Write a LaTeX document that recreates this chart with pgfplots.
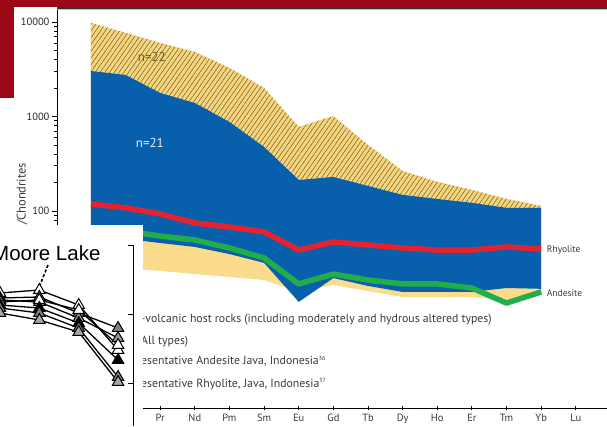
\documentclass[border=0pt]{standalone}
\usepackage{fontspec}
\setmainfont{PT Sans}
\newfontfamily\arialfont{Liberation Sans}
\usepackage{pgfplots}
\usepackage{pgfplotstable}
\pgfplotsset{compat=1.18}
\usepgfplotslibrary{fillbetween}
\usetikzlibrary{patterns.meta}

\definecolor{maroon}{HTML}{9A0A16}
\definecolor{hatchbg}{HTML}{F6D57C}
\definecolor{hatchln}{HTML}{6E5C2E}
\definecolor{lowyel}{HTML}{FBDB8C}
\definecolor{reeblue}{HTML}{0860AC}
\definecolor{rhyred}{HTML}{E52330}
\definecolor{andgreen}{HTML}{22AD4A}
\definecolor{txtgrey}{HTML}{3A3A3A}

% REE / chondrite, x: 1=La ... 14=Yb
\pgfplotstableread{
x  up22  up21  lo21  lo22  rhy   and
1  9760  3030  54    26.2  119   66
2  7660  2750  50.6  24.9  108   61.4
3  5990  1774  45.8  23.2  93    54.3
4  4820  1390  41.6  21.5  74.6  49.3
5  3260  875   35    20    67.7  40.6
6  2005  476   28.2  18.6  60    31.8
7  774   213   10.9  13.9  38.6  16.9
8  1010  229   19.5  16.5  47    21.5
9  499   184   16.1  14.2  43.7  18.6
10 265   148   13.9  12.3  40.6  16.9
11 203   134   13.9  12.3  38.6  16.9
12 167   122   13.9  12.3  38.6  15.3
13 134   108   15.3  11.4  41.6  10.6
14 113   108   15    13.9  39.6  13.9
}\ree

% inset (Moore Lake), 4 columns
\pgfplotstableread{
x  a    b    c    d    e    f    g
0  133  128  126  124  121  118  113
1  136  129  124  126  118  113  106
2  121  113  108  116  103  98   94
3  76   98   88   81   66   49   44
}\moore

\begin{document}
\begin{tikzpicture}[x=1pt,y=1pt]

\begin{axis}[
    at={(57pt,18pt)}, anchor=south west,
    scale only axis, width=560pt, height=400pt,
    xmin=0.02, xmax=16.19,
    ymode=log, ymin=0.822, ymax=14060,
    axis lines*=left,
    axis line style={line width=1pt, black},
    xtick={1,...,15},
    xticklabels={La,Ce,Pr,Nd,Pm,Sm,Eu,Gd,Tb,Dy,Ho,Er,Tm,Yb,Lu},
    ytick={1,10,100,1000,10000},
    yticklabels={1,10,100,1000,10000},
    minor ytick={2,3,4,5,6,7,8,9,20,30,40,50,60,70,80,90,200,300,400,500,600,700,800,900,2000,3000,4000,5000,6000,7000,8000,9000},
    xtick align=center, ytick align=outside,
    major tick length=5pt, minor tick length=3pt,
    tick style={black, line width=0.8pt},
    xticklabel style={font=\fontsize{10.5}{11}\selectfont, text=txtgrey},
    yticklabel style={font=\fontsize{10.5}{11}\selectfont, text=black!85, xshift=1pt},
    /pgf/number format/assume math mode=true,
]
\addplot[draw=none, name path=u22, forget plot] table[x=x, y=up22]{\ree};
\addplot[draw=none, name path=u21, forget plot] table[x=x, y=up21]{\ree};
\addplot[draw=none, name path=l21, forget plot] table[x=x, y=lo21]{\ree};
\addplot[draw=none, name path=l22, forget plot] table[x=x, y=lo22]{\ree};
\addplot[lowyel, draw=none] fill between[of=u22 and l22];
\addplot[hatchbg, draw=none] fill between[of=u22 and u21];
\addplot[pattern={Lines[angle=55, distance=3.9pt, line width=0.5pt]}, pattern color=hatchln, draw=none] fill between[of=u22 and u21];
\addplot[reeblue, draw=none] fill between[of=u21 and l21];
\addplot[rhyred, line width=5.5pt, line join=round] table[x=x, y=rhy]{\ree};
\addplot[andgreen, line width=5.5pt, line join=round] table[x=x, y=and]{\ree};

\node[text=hatchln, font=\fontsize{13}{14}\selectfont] at (axis cs:2.76,4266) {n=22};
\node[text=blue!8, font=\fontsize{13}{14}\selectfont] at (axis cs:2.70,525) {n=21};
\node[anchor=west, inner sep=0pt, text=txtgrey, font=\fontsize{9.5}{10}\selectfont] at (axis cs:14.16,38.6) {Rhyolite};
\node[anchor=west, inner sep=0pt, text=txtgrey, font=\fontsize{9.5}{10}\selectfont] at (axis cs:14.16,13.6) {Andesite};
\end{axis}

% frame decoration
\fill[maroon] (0,419) rectangle (607,426);
\fill[maroon] (0,328) rectangle (14,426);
\draw[black!80, line width=1.3pt] (57,418) -- (607,418);
\draw[black!25, line width=0.8pt] (57,416.6) -- (607,416.6);

\node[rotate=90, font=\fontsize{12.5}{13}\selectfont, text=txtgrey] at (22,232) {/Chondrites};

% legend text (partly hidden)
\begin{scope}[every node/.style={anchor=west, inner sep=0pt, text=txtgrey, font=\fontsize{11.8}{12}\selectfont}]
\node at (141,106) {-volcanic host rocks (including moderately and hydrous altered types)};
\node at (141,84) {All types)};
\node at (141,65) {esentative Andesite Java, Indonesia\textsuperscript{\fontsize{6}{6}\selectfont 36}};
\node at (141,42) {esentative Rhyolite, Java, Indonesia\textsuperscript{\fontsize{6}{6}\selectfont 37}};
\end{scope}

% inset panel
\fill[white] (0,0) rectangle (143,201);
\begin{axis}[
    at={(0pt,0pt)}, anchor=south west,
    scale only axis, width=133pt, height=181pt,
    xmin=0, xmax=3.38, ymin=0, ymax=181,
    axis x line=none, axis y line*=right,
    axis line style={line width=0.9pt, black},
    ytick={43,112,181}, yticklabels={},
    tick align=inside, major tick length=5pt,
    tick style={black, line width=0.8pt},
    clip=false,
    every axis plot/.append style={black, line width=1.3pt, mark=triangle*, mark size=6.5pt},
]
\addplot[mark options={fill=white, draw=black, line width=1pt}] table[x=x, y=a]{\moore};
\addplot[mark options={fill=gray, draw=black, line width=1pt}] table[x=x, y=b]{\moore};
\addplot[mark options={fill=gray!80, draw=black, line width=1pt}] table[x=x, y=c]{\moore};
\addplot[mark options={fill=white, draw=black, line width=1pt}] table[x=x, y=d]{\moore};
\addplot[mark options={fill=black, draw=black, line width=1pt}] table[x=x, y=e]{\moore};
\addplot[mark options={fill=gray, draw=black, line width=1pt}] table[x=x, y=f]{\moore};
\addplot[mark options={fill=gray!70, draw=black, line width=1pt}] table[x=x, y=g]{\moore};
\end{axis}
\node[anchor=base west, inner sep=0pt, font=\arialfont\fontsize{20.5}{21}\selectfont] at (-8,166) {Moore Lake};
\draw[black, line width=1.6pt, dash pattern=on 3pt off 2pt] (48,161) -- (40,141);

\pgfresetboundingbox
\path[use as bounding box] (0,0) rectangle (607,426);
\end{tikzpicture}
\end{document}
